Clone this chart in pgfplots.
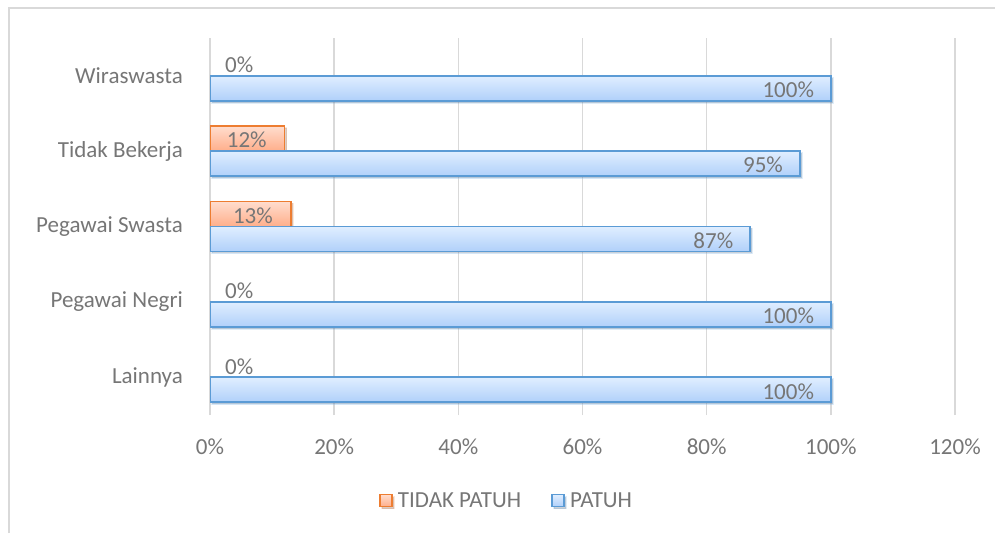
\documentclass[border=0pt]{standalone}
\usepackage{pgfplots}
\pgfplotsset{compat=1.18}
\usepackage{fontspec}
\setmainfont{Carlito}
\usetikzlibrary{shadows}
\definecolor{txt}{HTML}{767676}
\definecolor{gridc}{HTML}{D9D9D9}
\definecolor{bluel}{HTML}{E0EEFF}
\definecolor{blued}{HTML}{B0D0FA}
\definecolor{blueb}{HTML}{5B9BD5}
\definecolor{orl}{HTML}{FFDDCE}
\definecolor{ord}{HTML}{FFAE8A}
\definecolor{orb}{HTML}{ED7D31}
\newcommand\f{\fontsize{23}{27}\selectfont}
\pgfplotsset{
  orbar/.style={xbar, bar width=25pt, bar shift=12.5pt, draw=orb, line width=1.8pt,
    top color=orl, bottom color=ord,
    drop shadow={shadow xshift=2pt, shadow yshift=-2pt, fill=black, opacity=0.18},
    every node near coord/.append style={anchor=east, xshift=-17pt, yshift=11pt}},
  blbar/.style={xbar, bar width=25pt, bar shift=-12.5pt, draw=blueb, line width=1.8pt,
    top color=bluel, bottom color=blued,
    drop shadow={shadow xshift=2pt, shadow yshift=-2pt, fill=black, opacity=0.18},
    every node near coord/.append style={anchor=east, xshift=-16pt, yshift=-14pt}},
}
\begin{document}
\begin{tikzpicture}[x=1pt,y=1pt]
\useasboundingbox (0,0) rectangle (995,533);
\draw[gridc, line width=2pt] (9,0) -- (9,525) -- (995,525);
\begin{axis}[
 at={(210pt,118pt)}, anchor=south west,
 scale only axis, width=745pt, height=377pt,
 xmin=0, xmax=120, ymin=-0.5, ymax=4.5,
 xtick={0,20,...,120},
 /pgf/number format/assume math mode=true,
 xticklabel={\pgfmathprintnumber{\tick}\%},
 ytick={0,1,2,3,4},
 yticklabels={Lainnya,Pegawai Negri,Pegawai Swasta,Tidak Bekerja,Wiraswasta},
 xticklabel style={font=\f, text=txt, inner sep=0pt, yshift=-24pt},
 yticklabel style={font=\f, text=txt, inner sep=0pt, xshift=-27pt},
 major tick length=0pt,
 axis line style={draw=none},
 xmajorgrids, grid style={gridc, line width=1.5pt},
 legend style={at={(0.2268,-0.227)}, anchor=west, draw=none, fill=none,
   legend columns=2, font=\f, text=txt, inner sep=0pt,
   /tikz/every even column/.append style={column sep=28pt}},
 legend image code/.code={\draw[#1] (0pt,-6pt) rectangle (12pt,6pt); \path (15pt,0pt);},
 every node near coord/.append style={font=\f, text=txt, inner sep=0pt},
 nodes near coords={\pgfmathprintnumber{\pgfplotspointmeta}\%},
 point meta=x,
]
% TIDAK PATUH
\addplot[orbar] coordinates {(12,3)};
\addlegendentry{TIDAK PATUH}
\addplot[orbar, forget plot] coordinates {(13,2)};
\addplot[xbar, bar width=25pt, bar shift=12.5pt, draw=none, fill=none, forget plot,
  every node near coord/.append style={anchor=west, xshift=15pt, yshift=11pt}]
  coordinates {(0,0) (0,1) (0,4)};
% PATUH
\addplot[blbar] coordinates {(100,0)};
\addlegendentry{PATUH}
\addplot[blbar, forget plot] coordinates {(100,1)};
\addplot[blbar, forget plot] coordinates {(87,2)};
\addplot[blbar, forget plot] coordinates {(95,3)};
\addplot[blbar, forget plot] coordinates {(100,4)};
\end{axis}
\end{tikzpicture}
\end{document}
